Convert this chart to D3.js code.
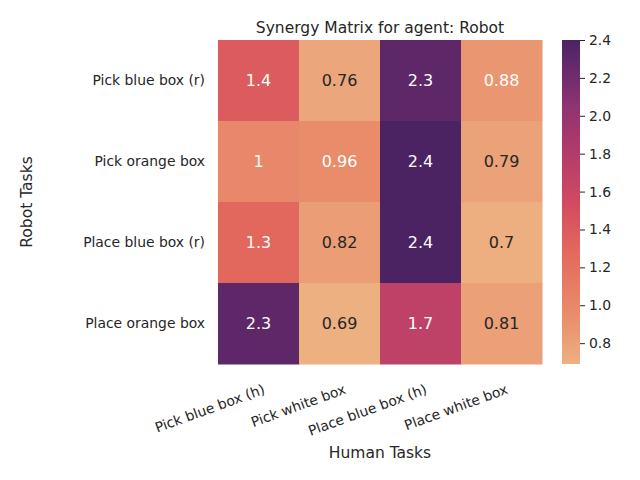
<!DOCTYPE html>
<html>
<head>
<meta charset="UTF-8">
<style>
  body { margin: 0; background: #fff; font-family: "DejaVu Sans", sans-serif; }
</style>
</head>
<body>
<svg width="640" height="480"></svg>
<script src="https://d3js.org/d3.v7.min.js"></script>
<script>
const robotTasks = ["Pick blue box (r)", "Pick orange box", "Place blue box (r)", "Place orange box"];
const humanTasks = ["Pick blue box (h)", "Pick white box", "Place blue box (h)", "Place white box"];
const values = [
  [1.4, 0.76, 2.3, 0.88],
  [1.0, 0.96, 2.4, 0.79],
  [1.3, 0.82, 2.4, 0.70],
  [2.3, 0.69, 1.7, 0.81]
];
const labels = [
  ["1.4", "0.76", "2.3", "0.88"],
  ["1", "0.96", "2.4", "0.79"],
  ["1.3", "0.82", "2.4", "0.7"],
  ["2.3", "0.69", "1.7", "0.81"]
];
const cbTicks = [0.8, 1.0, 1.2, 1.4, 1.6, 1.8, 2.0, 2.2, 2.4];
const vmin = 0.69, vmax = 2.4;

const svg = d3.select("svg");
const plotLeft = 218, plotTop = 40, size = 324;

const x = d3.scaleBand().domain(humanTasks).range([plotLeft, plotLeft + size]);
const y = d3.scaleBand().domain(robotTasks).range([plotTop, plotTop + size]);

// approx seaborn "flare"
const flare = d3.scaleLinear()
  .domain([0, 0.15, 0.35, 0.5, 0.65, 0.8, 0.9, 1])
  .range(["#edb081", "#e98d6b", "#e3685c", "#d14a61", "#b13c6c", "#8f3371", "#6c2b6d", "#4b2362"])
  .interpolate(d3.interpolateRgb);
const color = v => flare((v - vmin) / (vmax - vmin));

const cells = [];
values.forEach((row, i) => row.forEach((v, j) => cells.push({ r: robotTasks[i], h: humanTasks[j], v, l: labels[i][j] })));

function lum(c) {
  const rgb = d3.rgb(c);
  const f = u => { u /= 255; return u <= 0.03928 ? u / 12.92 : Math.pow((u + 0.055) / 1.055, 2.4); };
  return 0.2126 * f(rgb.r) + 0.7152 * f(rgb.g) + 0.0722 * f(rgb.b);
}

svg.selectAll("rect.cell").data(cells).join("rect")
  .attr("x", d => x(d.h)).attr("y", d => y(d.r))
  .attr("width", x.bandwidth() + 0.5).attr("height", y.bandwidth() + 0.5)
  .attr("fill", d => color(d.v));

svg.selectAll("text.ann").data(cells).join("text")
  .attr("x", d => x(d.h) + x.bandwidth() / 2).attr("y", d => y(d.r) + y.bandwidth() / 2)
  .attr("dy", "0.35em").attr("text-anchor", "middle").attr("font-size", 16)
  .attr("fill", d => lum(color(d.v)) > 0.408 ? "#262626" : "#fff")
  .text(d => d.l);

// y tick labels
svg.selectAll("text.ylab").data(robotTasks).join("text")
  .attr("x", plotLeft - 13).attr("y", d => y(d) + y.bandwidth() / 2)
  .attr("dy", "0.35em").attr("text-anchor", "end").attr("font-size", 13.9).attr("fill", "#262626")
  .text(d => d);

// x tick labels rotated
svg.selectAll("text.xlab").data(humanTasks).join("text")
  .attr("transform", d => `translate(${x(d) + x.bandwidth() / 2 + 4},${plotTop + size + 20}) rotate(-20)`)
  .attr("text-anchor", "end").attr("dy", "0.7em").attr("font-size", 13.9).attr("fill", "#262626")
  .text(d => d);

svg.append("text").attr("x", plotLeft + size / 2).attr("y", 33).attr("text-anchor", "middle")
  .attr("font-size", 15.5).attr("fill", "#262626").text("Synergy Matrix for agent: Robot");
svg.append("text").attr("x", plotLeft + size / 2).attr("y", 458).attr("text-anchor", "middle")
  .attr("font-size", 15.5).attr("fill", "#262626").text("Human Tasks");
svg.append("text").attr("transform", `translate(32,${plotTop + size / 2}) rotate(-90)`).attr("text-anchor", "middle")
  .attr("font-size", 15.5).attr("fill", "#262626").text("Robot Tasks");

// colorbar
const cbX = 562, cbW = 18;
const cy = d3.scaleLinear().domain([vmin, vmax]).range([plotTop + size, plotTop]);
const defs = svg.append("defs");
const grad = defs.append("linearGradient").attr("id", "cb").attr("x1", 0).attr("x2", 0).attr("y1", 1).attr("y2", 0);
d3.range(0, 1.001, 0.05).forEach(t => grad.append("stop").attr("offset", t).attr("stop-color", flare(t)));
svg.append("rect").attr("x", cbX).attr("y", plotTop).attr("width", cbW).attr("height", size).attr("fill", "url(#cb)");
svg.append("g").attr("transform", `translate(${cbX + cbW},0)`)
  .call(d3.axisRight(cy).tickValues(cbTicks).tickFormat(d3.format(".1f")).tickSize(5).tickPadding(4))
  .call(g => g.select(".domain").remove())
  .call(g => g.selectAll("text").attr("font-size", 13.9).attr("fill", "#262626").attr("font-family", "DejaVu Sans"))
  .call(g => g.selectAll("line").attr("stroke", "#262626"));
</script>
</body>
</html>
